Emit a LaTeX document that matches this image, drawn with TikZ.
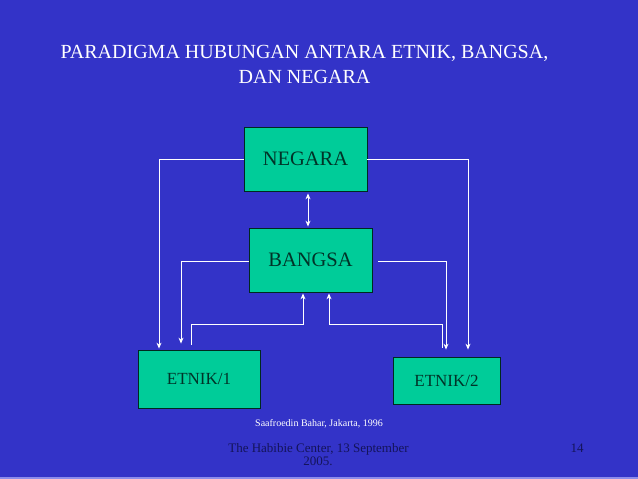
\documentclass[tikz,border=0pt]{standalone}
\usepackage{fontspec}
\setmainfont{Liberation Serif}
\newfontfamily\tnr{Liberation Serif}
\usetikzlibrary{arrows.meta}
\definecolor{bgblue}{RGB}{51,51,200}
\definecolor{boxfill}{RGB}{0,204,153}
\definecolor{boxtext}{RGB}{0,51,40}
\definecolor{foottext}{RGB}{20,20,90}
\definecolor{stripcol}{RGB}{140,140,235}
\tikzset{
  boxnode/.style={draw=black!80!boxfill, line width=0.8pt, fill=boxfill, text=boxtext, inner sep=0pt},
  bigbox/.style={boxnode, minimum width=123pt, minimum height=64pt, font=\tnr\fontsize{20.5}{24}\selectfont},
  smallbox/.style={boxnode, font=\tnr\fontsize{17}{20}\selectfont},
  wire/.style={draw=white, line width=0.9pt},
  arr/.style={wire, -{Stealth[length=6pt,width=5pt]}},
  titletext/.style={text=white, font=\tnr\fontsize{20}{24}\selectfont, anchor=base, inner sep=0pt},
  foot/.style={text=foottext, font=\tnr\fontsize{13}{15}\selectfont, anchor=base, inner sep=0pt}
}
\begin{document}
\begin{tikzpicture}[x=1pt,y=-1pt]
\fill[bgblue] (0,0) rectangle (638,479);
\fill[stripcol] (0,477) rectangle (638,479);
\useasboundingbox (0,0) rectangle (638,479);

\node[titletext] (t1) at (304.5,58) {PARADIGMA HUBUNGAN ANTARA ETNIK, BANGSA,};
\node[titletext] (t2) at (304.5,83) {DAN NEGARA};

\node[bigbox] (neg) at (305.5,159) {NEGARA};
\node[bigbox] (ban) at (310.5,260) {BANGSA};
\node[smallbox, minimum width=122pt, minimum height=58pt] (e1) at (199,379) {ETNIK/1};
\node[smallbox, minimum width=107pt, minimum height=47pt] (e2) at (446.5,380.5) {\raisebox{-4pt}{ETNIK/2}};

% NEGARA <-> BANGSA
\draw[wire, {Stealth[length=6pt,width=5pt]}-{Stealth[length=6pt,width=5pt]}] ([xshift=2.5pt,yshift=-2pt]neg.south) -- ([xshift=-2.5pt,yshift=1pt]ban.north);

% NEGARA to ETNIKs
\draw[arr] (neg.west) -| ([xshift=-40pt,yshift=1pt]e1.north);
\draw[arr] (neg.east) -| ([xshift=21.5pt,yshift=7pt]e2.north);

% BANGSA to ETNIKs
\draw[arr] ([yshift=-1pt]ban.west) -| ([xshift=-18pt,yshift=6pt]e1.north);
\draw[arr] ([xshift=6pt,yshift=-1pt]ban.east) -| ([xshift=-0.5pt,yshift=7pt]e2.north);

% ETNIKs to BANGSA
\draw[arr] ([xshift=-8pt,yshift=5pt]e1.north) |- ([xshift=-7.5pt,yshift=-32pt]ban.south) -- ([xshift=-7.5pt,yshift=-1pt]ban.south);
\draw[arr] ([xshift=-4.5pt,yshift=9pt]e2.north) |- ([xshift=18.5pt,yshift=-32pt]ban.south) -- ([xshift=18.5pt,yshift=-1pt]ban.south);

\node[text=white, font=\tnr\fontsize{10}{12}\selectfont, anchor=base, inner sep=0pt] (src) at (319,426) {Saafroedin Bahar, Jakarta, 1996};
\node[foot] (f1) at (318.5,452) {The Habibie Center, 13 September};
\node[foot] (f2) at (318,465) {2005.};
\node[foot] (pg) at (577,452) {14};
\end{tikzpicture}
\end{document}
